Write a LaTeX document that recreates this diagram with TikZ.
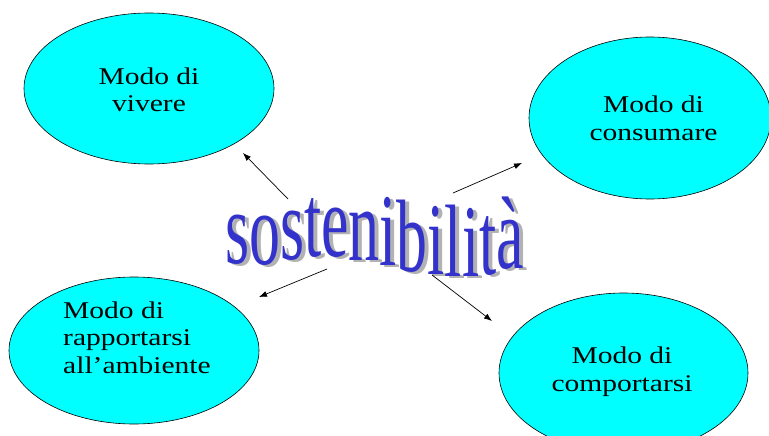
\documentclass[tikz,border=0pt]{standalone}
\usepackage{fontspec}
\setmainfont{Liberation Serif}
\newfontfamily\elfont[FakeStretch=1.23]{Liberation Serif}
\newfontfamily\wafont[FakeStretch=0.6]{Liberation Serif}
\usetikzlibrary{shapes.geometric,arrows.meta}
\definecolor{ellcyan}{RGB}{0,255,255}
\definecolor{wablue}{RGB}{51,51,204}
\definecolor{wagray}{RGB}{178,178,178}
\newcommand\wsletter[2]{\raisebox{#1pt}{#2}}
\newcommand\wsword{\wsletter{0}{s}\wsletter{-1}{o}\wsletter{4}{s}\wsletter{7}{t}\wsletter{7}{e}\wsletter{3}{n}\wsletter{-2}{i}\wsletter{-8}{b}\wsletter{-11}{i}\wsletter{-13}{l}\wsletter{-13}{i}\wsletter{-11}{t}\wsletter{-5}{à}}
\begin{document}
\begin{tikzpicture}[x=1pt,y=-1pt,
  ell/.style={ellipse,draw=black,line width=0.6pt,fill=ellcyan,inner sep=0},
  lbl/.style={font=\elfont\fontsize{24}{27.5}\selectfont,inner sep=0,align=center},
  wa/.style={font=\wafont\fontsize{103}{103}\selectfont,anchor=base west,inner sep=0},
  arr/.style={-{Latex[length=8pt,width=6pt]},line width=0.7pt}]
\useasboundingbox (0,0) rectangle (769,436);
\clip (0,0) rectangle (769,436);
\fill[white] (0,0) rectangle (769,436);
% ellipses
\node[ell,minimum width=250pt,minimum height=151pt] (e1) at (149,88.5) {};
\node[ell,minimum width=242pt,minimum height=162pt] (e2) at (650,118) {};
\node[ell,minimum width=250pt,minimum height=147pt] (e3) at (134,350.5) {};
\node[ell,minimum width=249pt,minimum height=160pt] (e4) at (623.5,373) {};
% labels
\node[lbl] (t1) at (149,90) {Modo di\\vivere};
\node[lbl] (t2) at (653.5,118.3) {Modo di\\consumare};
\node[lbl,align=left,anchor=west] (t3) at (63,337.5) {Modo di\\rapportarsi\\all’ambiente};
\node[lbl] (t4) at (622,371.5) {Modo di\\comportarsi};
% word art
\node[wa,text=wagray] (ws) at (229,265) {\wsword};
\node[wa,text=wablue] (w) at (225,263) {\wsword};
% arrows
\coordinate (a1) at (288,199); \coordinate (h1) at (243,153);
\coordinate (a2) at (453,193); \coordinate (h2) at (522,163);
\coordinate (a3) at (327,269); \coordinate (h3) at (259,297);
\coordinate (a4) at (432,275); \coordinate (h4) at (492,321);
\draw[arr] (a1) -- (h1);
\draw[arr] (a2) -- (h2);
\draw[arr] (a3) -- (h3);
\draw[arr] (a4) -- (h4);
\end{tikzpicture}
\end{document}
